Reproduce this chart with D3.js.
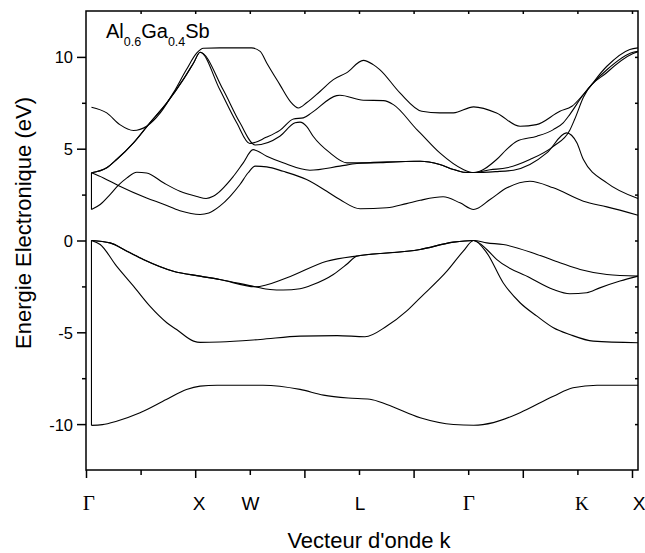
<!DOCTYPE html>
<html>
<head>
<meta charset="utf-8">
<script src="https://cdn.jsdelivr.net/npm/d3@7"></script>
<style>
  body { margin: 0; background: #fff; }
  text { font-family: "Liberation Sans", Arial, sans-serif; fill: #000; }
  .axis path, .axis line { stroke: #000; stroke-width: 1.5; }
  .band { fill: none; stroke: #000; stroke-width: 1.1; }
</style>
</head>
<body>
<div id="chart"></div>
<script>
// axis ticks
var kTicksMajor = [0, 2, 4, 6, 8, 10];
var kTicksMinor = [1, 3, 5, 7, 9];
var kTicksTop = [1, 2, 3, 4, 5, 6, 7, 8, 9, 10];
var eTicksMajor = [-10, -5, 0, 5, 10];
var eTicksMinor = [-7.5, -2.5, 2.5, 7.5];
var eTicksRight = [-10, -7.5, -5, -2.5, 0, 2.5, 5, 7.5, 10];

// high symmetry points (label, position along k)
var symNames = ["Γ", "X", "W", "L", "Γ", "K", "X"];
var symPos = [0.05, 2.07, 3.01, 5.02, 7.01, 9.08, 10.13];
var symSerif = [true, false, false, false, true, true, false];

// vertical jumps drawn at the first Gamma point
var gammaK = 0.1;
var gammaJumps = [[-10.07, 0], [1.69, 3.69]];

// bands: [k, E(eV)]
var vb1 = [[0.1,-10.07],[0.3,-10.03],[0.56,-9.84],[0.99,-9.38],[1.47,-8.66],[1.84,-8.11],[2.09,-7.93],[2.4,-7.88],[3.24,-7.88],[3.92,-8.11],[4.35,-8.42],[4.8,-8.58],[5.2,-8.65],[5.51,-8.93],[6.12,-9.65],[6.73,-10.02],[7.1,-10.06],[7.46,-9.92],[7.95,-9.38],[8.56,-8.48],[8.92,-8.02],[9.36,-7.88],[10.11,-7.88]];
var vb2 = [[0.1,0],[0.26,-0.22],[0.56,-1.4],[0.87,-2.49],[1.17,-3.58],[1.48,-4.48],[1.66,-4.85],[1.97,-5.48],[2.09,-5.55],[2.45,-5.53],[3.19,-5.39],[3.92,-5.21],[4.6,-5.18],[5.11,-5.24],[5.51,-4.66],[5.87,-3.85],[6.12,-3.12],[6.61,-1.67],[6.91,-0.58],[7.1,0],[7.34,-0.67],[7.64,-2.3],[7.95,-3.39],[8.26,-4.12],[8.56,-4.75],[8.86,-5.12],[9.29,-5.48],[10.11,-5.57]];
var vb3 = [[0.1,0],[0.44,-0.13],[0.75,-0.58],[1.05,-1.03],[1.6,-1.67],[2.09,-1.94],[2.45,-2.12],[3.1,-2.52],[3.68,-2.03],[4.41,-1.13],[5.02,-0.82],[6.12,-0.49],[6.73,-0.09],[7.1,0],[7.34,-0.13],[7.64,-0.22],[8.26,-0.76],[8.68,-1.21],[9.05,-1.58],[9.54,-1.85],[10.11,-1.94]];
var vb4 = [[0.1,0],[0.44,-0.13],[0.75,-0.58],[1.05,-1.03],[1.6,-1.67],[2.09,-1.94],[2.45,-2.12],[3.1,-2.52],[3.37,-2.67],[3.61,-2.7],[3.92,-2.63],[4.16,-2.4],[4.53,-1.85],[4.77,-1.31],[4.96,-0.85],[5.02,-0.82],[6.12,-0.49],[6.73,-0.09],[7.1,0],[7.34,-0.49],[7.52,-1.03],[8.13,-2.03],[8.56,-2.67],[8.86,-2.9],[9.17,-2.85],[9.41,-2.58],[9.78,-2.21],[10.11,-1.94]];
var cb1 = [[0.1,3.69],[0.32,3.41],[0.59,3.0],[1.11,2.32],[1.42,1.98],[1.72,1.62],[2.09,1.42],[2.25,1.5],[2.45,1.87],[2.64,2.41],[2.82,3.05],[2.97,3.69],[3.1,4.05],[3.31,4.01],[3.61,3.77],[4.04,3.32],[4.41,2.68],[4.65,2.23],[5.02,1.73],[5.51,1.78],[5.87,2.01],[6.12,2.19],[6.54,2.38],[6.85,2.05],[7.1,1.69],[7.4,2.23],[7.71,2.87],[8.13,3.23],[8.56,2.87],[9.11,2.14],[9.54,1.83],[10.11,1.38]];
var cb2 = [[0.1,1.69],[0.26,1.96],[0.44,2.5],[0.59,3.0],[0.75,3.41],[0.93,3.72],[1.11,3.68],[1.42,3.14],[1.72,2.68],[2.03,2.4],[2.2,2.29],[2.33,2.41],[2.7,3.5],[2.88,4.23],[3.06,4.95],[3.31,4.59],[3.61,4.23],[4.1,3.83],[4.65,4.05],[4.96,4.19],[5.51,4.28],[6.12,4.32],[6.48,4.14],[6.73,3.87],[6.91,3.72],[7.1,3.7],[7.5,3.75],[7.83,3.83],[8.13,4.14],[8.44,4.77],[8.8,5.86],[8.99,5.32],[9.11,4.41],[9.54,3.14],[10.11,2.29]];
var cb3 = [[0.1,3.69],[0.38,3.96],[0.56,4.41],[0.87,5.32],[1.17,6.41],[1.48,7.5],[1.78,8.76],[1.97,9.67],[2.09,10.25],[2.51,8.22],[2.82,6.41],[3.1,5.2],[3.55,5.68],[3.83,6.41],[3.92,6.45],[4.04,6.22],[4.16,5.68],[4.47,4.77],[4.78,4.23],[5.08,4.23],[5.39,4.24],[6.0,4.32],[6.12,4.32],[6.48,4.14],[6.73,3.87],[6.91,3.72],[7.1,3.7],[7.4,3.85],[7.71,3.96],[8.13,4.41],[8.56,5.13],[8.86,6.0],[8.95,6.6],[9.11,7.8],[9.54,9.15],[10.02,10.18],[10.11,10.28]];
var cb4 = [[0.1,3.69],[0.38,3.96],[0.56,4.41],[0.87,5.32],[1.17,6.41],[1.48,7.5],[1.78,8.76],[1.97,9.67],[2.09,10.25],[2.45,8.22],[2.76,6.41],[3.0,5.28],[3.3,5.62],[3.55,6.0],[3.8,6.62],[3.98,6.68],[4.13,6.95],[4.59,7.89],[4.65,7.91],[5.08,7.64],[5.45,7.62],[5.63,7.4],[6.06,6.04],[6.12,5.86],[6.48,4.77],[6.91,3.87],[7.1,3.7],[7.52,4.41],[7.7,4.95],[7.89,5.41],[8.26,5.68],[8.56,6.04],[8.74,6.41],[8.86,6.86],[9.11,7.95],[9.54,9.3],[10.02,10.25],[10.11,10.3]];
var cb5 = [[0.1,7.26],[0.38,6.95],[0.62,6.31],[0.87,5.99],[1.11,6.22],[1.36,6.95],[1.6,8.04],[1.84,9.31],[2.03,10.22],[2.15,10.47],[2.45,10.49],[3.03,10.49],[3.19,10.3],[3.31,9.67],[3.55,8.49],[3.74,7.58],[3.89,7.22],[4.04,7.5],[4.29,8.13],[4.53,8.76],[4.77,9.13],[5.08,9.81],[5.26,9.58],[5.38,9.31],[5.75,8.04],[6.15,7.04],[6.48,6.95],[6.73,6.95],[7.1,7.28],[7.52,6.95],[7.95,6.22],[8.25,6.31],[8.68,7.04],[8.9,7.31],[9.11,7.95],[9.54,9.49],[9.96,10.4],[10.11,10.49]];

var bands = [vb1, vb2, vb3, vb4, cb1, cb2, cb3, cb4, cb5];

var margin = {top: 11, right: 7, bottom: 83, left: 86},
    width = 645, height = 553,
    chartWidth = width - margin.left - margin.right,
    chartHeight = height - margin.top - margin.bottom;

var x = d3.scaleLinear().domain([0, 10.11]).range([0, chartWidth]);
var y = d3.scaleLinear().domain([-12.5, 12.5]).range([chartHeight, 0]);

var svg = d3.select("#chart").append("svg")
    .attr("width", width)
    .attr("height", height);

var g = svg.append("g").attr("transform", "translate(" + margin.left + "," + margin.top + ")");

// bands
var line = d3.line()
    .x(function(d) { return x(d[0]); })
    .y(function(d) { return y(d[1]); })
    .curve(d3.curveMonotoneX);

g.selectAll("path.band")
    .data(bands)
    .enter().append("path")
    .attr("class", "band")
    .attr("d", line);

g.selectAll("line.jump")
    .data(gammaJumps)
    .enter().append("line")
    .attr("class", "band")
    .attr("x1", x(gammaK)).attr("x2", x(gammaK))
    .attr("y1", function(d) { return y(d[0]); })
    .attr("y2", function(d) { return y(d[1]); });

// frame
g.append("rect")
    .attr("width", chartWidth)
    .attr("height", chartHeight)
    .attr("fill", "none")
    .attr("stroke", "#000")
    .attr("stroke-width", 1.5);

// left axis
var yAxis = g.append("g").attr("class", "axis")
    .call(d3.axisLeft(y).tickValues(eTicksMajor).tickSize(9).tickSizeOuter(0).tickPadding(4)
        .tickFormat(function(d) { return String(d); }));
yAxis.selectAll("text").style("font-size", "16.5px").attr("dy", "0.36em");
g.append("g").attr("class", "axis")
    .call(d3.axisLeft(y).tickValues(eTicksMinor).tickSize(4).tickSizeOuter(0).tickFormat(""));

// right axis (ticks inside)
g.append("g").attr("class", "axis")
    .attr("transform", "translate(" + chartWidth + ",0)")
    .call(d3.axisLeft(y).tickValues(eTicksRight).tickSize(3).tickSizeOuter(0).tickFormat(""));

// top axis (ticks inside)
g.append("g").attr("class", "axis")
    .call(d3.axisBottom(x).tickValues(kTicksTop).tickSize(3).tickSizeOuter(0).tickFormat(""));

// bottom axis
g.append("g").attr("class", "axis")
    .attr("transform", "translate(0," + chartHeight + ")")
    .call(d3.axisBottom(x).tickValues(kTicksMajor).tickSize(8).tickSizeOuter(0).tickFormat(""));
g.append("g").attr("class", "axis")
    .attr("transform", "translate(0," + chartHeight + ")")
    .call(d3.axisBottom(x).tickValues(kTicksMinor).tickSize(5).tickSizeOuter(0).tickFormat(""));
g.selectAll(".axis path.domain").remove();

// symmetry point labels
g.selectAll("text.sym")
    .data(symNames)
    .enter().append("text")
    .attr("class", "sym")
    .attr("x", function(d, i) { return x(symPos[i]); })
    .attr("y", chartHeight + 40)
    .attr("text-anchor", "middle")
    .style("font-family", function(d, i) { return symSerif[i] ? "'Liberation Serif','Times New Roman',serif" : null; })
    .style("font-size", function(d, i) { return symSerif[i] ? (d == "K" ? "19px" : "21px") : "19px"; })
    .text(function(d) { return d; });

// axis titles
svg.append("text")
    .attr("x", 369)
    .attr("y", 548)
    .attr("text-anchor", "middle")
    .style("font-size", "22px")
    .text("Vecteur d'onde k");

svg.append("text")
    .attr("transform", "translate(30.5,223) rotate(-90)")
    .attr("text-anchor", "middle")
    .style("font-size", "22px")
    .text("Energie Electronique (eV)");

// compound label
var title = svg.append("text")
    .attr("x", 106)
    .attr("y", 37.5)
    .style("font-size", "20px");
title.append("tspan").text("Al");
title.append("tspan").attr("dy", 8).style("font-size", "12.5px").text("0.6");
title.append("tspan").attr("dy", -8).text("Ga");
title.append("tspan").attr("dy", 8).style("font-size", "12.5px").text("0.4");
title.append("tspan").attr("dy", -8).text("Sb");
</script>
</body>
</html>
